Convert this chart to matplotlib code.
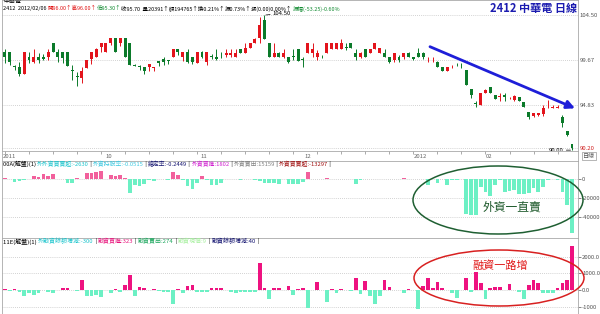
import numpy as np
import matplotlib.pyplot as plt
from matplotlib.patches import Ellipse

plt.rcParams['font.family'] = ['Noto Sans CJK TC', 'DejaVu Sans']

# 2412 中華電 日K
open_ = [100.5, 100.5, 99.0, 98.9, 98.2, 100.0, 99.5, 100.0, 100.0, 100.0,
         101.5, 100.5, 100.5, 100.5, 98.6, 98.0, 97.7, 98.8, 99.8, 100.0,
         101.1, 100.5, 101.5, 102.0, 101.5, 102.0, 101.5, 99.1, 99.0, 98.9,
         98.95, 98.8, 99.6, 99.8, 99.7, 100.0, 100.9, 100.0, 100.5, 100.0,
         99.3,
         100.5, 99.5, 100.1, 100.0, 100.0, 100.2, 100.2, 100.0, 100.9, 100.45,
         101.0, 101.5, 102.0, 104.0, 101.5, 100.0, 100.45, 100.0, 100.0, 100.05,
         100.9, 99.8, 100.45, 100.45, 100.0, 100.0, 100.45, 100.9, 100.9, 100.9,
         101.05, 101.46, 100.45, 99.96, 100.9, 100.45, 100.9, 100.45, 100.45, 99.96,
         99.67, 100.0,
         99.96, 100.45, 99.96, 100.45, 100.45, 99.85, 99.85, 99.49, 98.95, 98.52,
         98.9, 99.15, 99.05, 98.6, 96.56, 95.1, 94.84, 96.16, 96.74, 95.91,
         95.75, 95.91, 95.55, 95.38, 95.67, 95.2, 94.12, 93.66, 93.73, 93.88,
         94.6, 94.55, 94.55, 93.52, 92.08, 90.66]
high = [100.8, 100.5, 99.1, 99.5, 100.5, 100.5, 100.9, 100.4, 100.3, 100.8,
        101.5, 100.9, 100.5, 100.5, 99.1, 98.4, 98.9, 99.7, 100.5, 101.0,
        101.5, 101.5, 102.0, 102.0, 102.0, 102.0, 101.5, 99.2, 99.1, 98.9,
        99.2, 98.9, 99.6, 100.0, 99.7, 100.9, 100.9, 100.5, 100.8, 100.0,
        100.5,
        100.6, 100.5, 100.3, 100.9, 100.5, 100.9, 100.9, 100.9, 100.9, 101.5,
        101.5, 102.0, 104.3, 104.5, 101.5, 101.5, 100.5, 100.9, 100.0, 100.9,
        100.9, 100.0, 101.5, 101.5, 100.7, 100.2, 101.5, 101.5, 101.5, 101.9,
        101.46, 101.5, 100.9, 100.5, 100.9, 100.9, 101.46, 100.95, 100.9, 100.0,
        100.45, 100.2,
        100.45, 100.5, 100.0, 100.92, 100.5, 99.96, 99.96, 99.6, 98.95, 98.9,
        99.13, 99.3, 99.3, 98.6, 96.56, 95.3, 96.16, 96.56, 96.8, 95.95,
        96.1, 96.1, 95.7, 95.9, 95.7, 95.2, 94.12, 93.95, 93.95, 94.84,
        95.38, 94.84, 94.84, 93.73, 92.1, 90.7]
low = [99.4, 99.1, 98.6, 98.0, 98.2, 99.4, 99.3, 99.3, 99.7, 99.7,
       100.5, 99.5, 99.4, 99.0, 97.5, 96.9, 97.2, 98.8, 99.2, 100.0,
       100.5, 100.5, 101.3, 100.5, 101.2, 100.0, 99.1, 99.0, 98.6, 98.2,
       98.5, 98.5, 99.0, 99.1, 99.2, 100.0, 100.2, 99.6, 99.3, 99.2,
       99.3,
       99.9, 99.1, 99.8, 99.7, 99.9, 100.0, 100.0, 100.0, 100.45, 100.45,
       101.0, 101.5, 101.5, 101.9, 100.0, 100.0, 100.0, 99.9, 99.3, 99.7,
       99.6, 98.95, 100.45, 100.0, 99.7, 99.9, 100.45, 100.9, 100.9, 100.9,
       100.74, 101.0, 99.7, 99.9, 99.96, 100.45, 100.9, 100.45, 99.96, 99.3,
       99.5, 99.5,
       99.8, 99.96, 99.7, 99.96, 99.8, 99.49, 99.49, 98.95, 98.52, 98.5,
       98.85, 99.0, 98.8, 97.0, 95.56, 94.6, 94.84, 96.16, 96.1, 95.45,
       95.3, 95.3, 95.45, 95.3, 95.3, 94.66, 93.3, 93.6, 93.7, 93.7,
       94.55, 94.5, 94.5, 92.52, 91.5, 90.0]
close = [100.0, 99.5, 98.9, 98.2, 100.5, 99.7, 100.0, 99.7, 99.8, 100.5,
         100.5, 100.0, 99.9, 99.0, 98.5, 97.8, 98.5, 99.7, 100.5, 100.9,
         101.5, 101.5, 102.0, 100.5, 102.0, 100.0, 99.1, 99.0, 98.9, 98.5,
         99.2, 98.9, 99.3, 99.5, 99.6, 100.9, 100.5, 100.5, 99.5, 99.5,
         100.5,
         100.0, 100.5, 100.0, 99.8, 99.95, 100.45, 100.45, 100.45, 100.45, 101.0,
         101.5, 101.9, 103.4, 101.9, 100.0, 100.45, 100.0, 100.45, 99.5, 100.0,
         99.6, 99.7, 101.46, 100.9, 100.45, 99.95, 101.46, 101.46, 101.46, 101.46,
         101.0, 101.0, 99.96, 100.45, 99.96, 100.9, 101.46, 100.92, 99.96, 99.49,
         100.45, 99.7,
         100.45, 99.96, 99.74, 99.96, 99.96, 99.9, 99.9, 98.95, 98.52, 98.9,
         98.95, 99.1, 99.0, 97.0, 95.91, 95.0, 96.16, 96.45, 96.1, 95.45,
         95.8, 95.66, 95.6, 95.81, 95.3, 94.66, 93.59, 93.95, 93.95, 94.55,
         94.66, 94.6, 94.6, 92.88, 91.62, 90.2]

# 外資買賣超
foreign = [1000, 0, -3000, -1500, -500, 0, 3500, 2500, 5500, 3500,
           5500, 0, 0, -3500, -3500, 1500, 500, 7000, 7000, 7500,
           9000, 500, 5000, 3000, 5000, 1000, -14000, -6000, -7500, -5000,
           -500, -1500, 500, 0, -500, 7500, 4500, -1000, -7000, -10000,
           -4000, 3500, -500, -6000, -6000, -3500, 500, 800, 0, -500,
           0, 300, -500, -2000, -3500, -3500, -3500, -5000, 0, -5000,
           -5000, -5000, -2500, 7500, 0, 0, 0, 1000, 0, 300,
           500, 300, 0, -5000, -500, 0, 300, 500, 300, 300,
           600, 600, 800, 1000, 800, 500, 500, 0, -6000, 0,
           -4000, 0, -6000, -1000, -500, 0, -36000, -38000, -38000, -8500,
           -13000, -18000, -6000, -500, -13000, -12000, -11000, -15000, -15000, -14000,
           -9500, -13000, -8500, -1000, 0, -1000, -13000, -27000, -57000]

# 融資餘額增減
margin = [60, -30, 60, -100, -340, -200, -300, -160, 0, -100,
          -200, 0, 140, 140, 0, -60, 600, -340, -340, -300,
          -400, 0, -200, 40, -100, 300, 900, -340, 200, 140,
          0, 40, -60, -100, -100, -840, 60, -200, 240, 300,
          -100, -100, -100, 100, 100, 140, 0, -100, -200, -100,
          -100, -100, -100, 1600, 100, -540, 100, 140, 0, 240,
          -300, 40, 100, -1100, 0, 500, 0, -700, 60, -160,
          40, 0, -60, 740, -260, 540, -340, -860, -340, 600,
          200, 0, 0, -200, 60, 0, -1160, 240, 700, 100,
          460, 100, 0, -200, -500, 0, 740, -100, 1100, 400,
          -560, 100, 200, 200, 0, 360, 0, -100, -560, 300,
          600, 440, -200, -200, -160, 140, 400, 600, 2640]

price_ticks = [104.50, 99.67, 94.83, 90.20]
foreign_ticks = [0, -20000, -40000]
margin_ticks = [2000, 1000, 0, -1000]
margin_labels = ['2000.0', '1000.0', '0.0', '-1000']
month_labels = ['2011', '10', '11', '12', '2012', '02']
month_pos = [-0.4, 21, 40.6, 62.4, 85, 100]

W, H = 600, 314
RED = '#e3141c'
GREEN = '#0b7a2a'
AQUA = '#6cf0c4'
FRAME = '#a8a8a8'
GRID = '#c4c4c4'
XL = (-0.62, 119.25)

fig = plt.figure(figsize=(6, 3.14), dpi=100)


def rect(l, t, r, b):
    return [l / W, 1 - b / H, (r - l) / W, (b - t) / H]


def style(ax, ylim, ticks, labels):
    ax.set_xlim(XL)
    ax.set_ylim(ylim)
    ax.set_xticks([])
    ax.yaxis.tick_right()
    ax.set_yticks(ticks)
    ax.set_yticklabels(labels)
    ax.tick_params(axis='y', length=2, width=0.5, pad=1, labelsize=4.3,
                   colors='#555555')
    for s in ax.spines.values():
        s.set_color(FRAME)
        s.set_linewidth(0.6)
    for t in ticks:
        ax.axhline(t, color=GRID, lw=0.6, ls=(0, (1, 1.5)), zorder=0)


def header(ax, x0, y0, parts, size=4.3):
    s, c = parts[0]
    t = ax.annotate(s, xy=(x0, H - y0), xycoords='figure pixels', color=c,
                    fontsize=size, va='center', ha='left')
    for s, c in parts[1:]:
        t = ax.annotate(s, xy=(1, 0.5), xycoords=t, color=c,
                        fontsize=size, va='center', ha='left')


o = np.array(open_)
hi = np.array(high)
lo = np.array(low)
c = np.array(close)
x = np.arange(len(c))
col = np.where(c >= o, RED, GREEN)

# ---- K線 ----
ax1 = fig.add_axes(rect(2, 0, 578, 151))
style(ax1, (89.906, 106.108), price_ticks, ['%.2f' % v for v in price_ticks])
ax1.get_yticklabels()[-1].set_color('#d02020')
ax1.tick_params(axis='y', length=0)
ax1.vlines(x, lo, hi, colors=col, lw=0.7)
ax1.bar(x, np.maximum(np.abs(c - o), 0.07), bottom=np.minimum(o, c),
        width=0.62, color=col, linewidth=0)

ih = int(np.argmax(hi))
ax1.annotate('%.2f' % hi[ih], xy=(ih + 0.3, hi[ih]), xytext=(7, 1.5),
             textcoords='offset pixels', fontsize=4.3, va='center', ha='left',
             arrowprops=dict(arrowstyle='-', lw=0.5, color='k',
                             shrinkA=0, shrinkB=0))
il = int(np.argmin(lo))
ax1.annotate('%.2f' % lo[il], xy=(il - 0.3, lo[il]), xytext=(-7, 0),
             textcoords='offset pixels', fontsize=4.3, va='center', ha='right',
             arrowprops=dict(arrowstyle='-', lw=0.5, color='k',
                             shrinkA=0, shrinkB=0))

# 下跌趨勢箭頭
ax1.annotate('', xy=(575, H - 108.3), xycoords='figure pixels',
             xytext=(430, H - 46.7), textcoords='figure pixels',
             arrowprops=dict(arrowstyle='-|>', color='#1e1ed8', lw=2,
                             mutation_scale=12, shrinkA=0, shrinkB=0))

ax1.annotate('中華電', xy=(3, H - 1.5), xycoords='figure pixels',
             fontsize=4.3, va='center', ha='left')
header(ax1, 3, 8.7, [('2412  2012/02/06 ', 'k'), ('開96.00↑高96.00↑', '#e01010'),
                     ('低95.30↑', '#108a30'), ('收95.70  量20391↑額194765↑換0.21%↑', 'k'),
                     ('振0.73%↑漲(0.00)0.00%↑', 'k'), ('振幅(-53.25)-0.60%', '#108a30')],
       size=3.95)

# ---- 日期列 ----
axd = fig.add_axes(rect(2, 151, 578, 160.7))
axd.set_xlim(XL)
axd.set_ylim(0, 1)
axd.set_xticks([])
axd.set_yticks([])
for s in axd.spines.values():
    s.set_color(FRAME)
    s.set_linewidth(0.6)
axd.vlines(np.arange(0, len(c), 5), 0.72, 1, color='#888888', lw=0.5)
for lab, p in zip(month_labels, month_pos):
    axd.text(p, 0.4, lab, fontsize=4.3, color='#666666', va='center', ha='left')
fig.text(589 / W, 1 - 156 / H, '日線', fontsize=4.3, color='#555555',
         ha='center', va='center',
         bbox=dict(boxstyle='square,pad=0.15', fc='white', ec='#999999', lw=0.5))

# ---- 外資買賣超 ----
ax2 = fig.add_axes(rect(2, 160.7, 578, 238))
style(ax2, (-61788, 19578), foreign_ticks, ['%d' % v for v in foreign_ticks])
f = np.array(foreign)
ax2.bar(x, f, width=0.78, color=np.where(f >= 0, '#f2609c', AQUA), linewidth=0)
header(ax2, 3, 164, [('00A(解盤)(1) ', 'k'), ('外外資買賣超:-2630', '#19c4cc'), (' | ', 'k'),
                     ('外資持股率:-0.0515', '#3cc8e0'), (' | ', 'k'),
                     ('總定率:-0.2449', '#10106e'), (' | ', 'k'),
                     ('外資買進:1802', '#d020d0'), (' | ', 'k'),
                     ('外資賣出:15159', '#808080'), (' | ', 'k'),
                     ('外資買賣超:-13297', '#a01010'), (' |', 'k')], size=4.2)

# ---- 融資餘額增減 ----
ax3 = fig.add_axes(rect(2, 238, 578, 314))
style(ax3, (-1437, 3114), margin_ticks, margin_labels)
m = np.array(margin)
ax3.bar(x, m, width=0.78, color=np.where(m >= 0, '#ee1280', AQUA), linewidth=0)
header(ax3, 3, 241.5, [('11E(解盤)(1) ', 'k'), ('外融資餘額增減:-300', '#19c4cc'), (' | ', 'k'),
                       ('融資買進:323', '#e8147c'), (' | ', 'k'),
                       ('融資賣出:274', '#20a860'), (' | ', 'k'),
                       ('融資現償:9', '#a8f0a0'), (' | ', 'k'),
                       ('融資餘額增減:40', '#10106e'), (' |', 'k')])

# ---- 標註 ----
fig.add_artist(Ellipse((498 / W, 1 - 200 / H), 170 / W, 68 / H,
                       transform=fig.transFigure, fill=False, ec='#1f5f32', lw=1.1))
fig.text(512 / W, 1 - 207 / H, '外資一直賣', fontsize=8.5, color='#1f5a2c',
         ha='center', va='center')
fig.add_artist(Ellipse((499 / W, 1 - 278 / H), 170 / W, 56 / H,
                       transform=fig.transFigure, fill=False, ec='#d82020', lw=1.1))
fig.text(500 / W, 1 - 266 / H, '融資一路增', fontsize=8, color='#e01818',
         ha='center', va='center')

fig.text(577 / W, 1 - 8.7 / H, '2412 中華電 日線', fontsize=8, fontweight='bold',
         color='#1c1cb0', ha='right', va='center')

fig.savefig('out.png', dpi=100)
